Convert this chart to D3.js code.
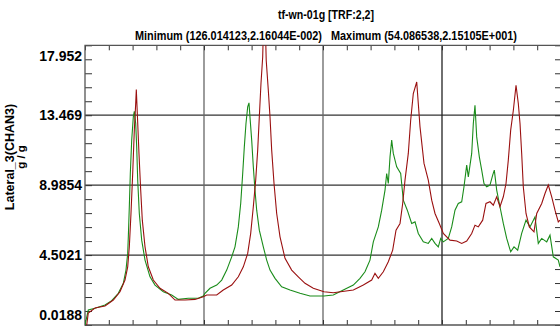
<!DOCTYPE html>
<html>
<head>
<meta charset="utf-8">
<script src="https://cdn.jsdelivr.net/npm/d3@7"></script>
<style>
    html, body { margin: 0; padding: 0; background: #fff; overflow: hidden; }
    svg text { font-family: "Liberation Sans Narrow", "Arial Narrow", "Liberation Sans", Arial, sans-serif; font-weight: bold; fill: #000; }
</style>
</head>
<body>
<svg id="chart" width="560" height="327"></svg>
<script>
// chart data (frequency in Hz, response in g/g)
const titleText = "tf-wn-01g [TRF:2,2]";
const minText = "Minimum (126.014123,2.16044E-002)";
const maxText = "Maximum (54.086538,2.15105E+001)";
const yTitle = "Lateral_3(CHAN3)";
const yUnit = "g / g";
const yTickValues = [0.0188, 4.5021, 8.9854, 13.469, 17.952];
const yTickLabels = ["0.0188", "4.5021", "8.9854", "13.469", "17.952"];
const xMajorTicks = [0, 25, 50, 75, 100];

const redSeries = [
    [0.36, 0.02], [0.69, 0.79], [2.10, 1.11], [4.20, 1.24], [5.95, 1.62], [7.35, 2.15], [8.40, 2.90],
    [8.97, 3.75], [9.31, 5.03], [9.66, 7.17], [10.02, 9.73], [10.36, 12.51], [10.65, 14.22], [10.78, 15.11],
    [10.99, 13.58], [11.34, 11.02], [11.70, 8.67], [12.04, 6.74], [12.61, 5.03], [13.30, 3.75], [14.35, 2.90],
    [15.76, 2.37], [17.50, 2.05], [18.91, 1.62], [21.01, 1.62], [23.11, 1.66], [24.85, 1.83],
    [25.57, 1.94], [27.67, 1.94], [29.05, 2.26], [30.82, 2.58], [32.21, 3.11], [33.26, 3.75], [34.18, 4.61],
    [34.81, 5.89], [35.36, 7.60], [35.86, 9.31], [36.28, 11.23], [36.62, 13.36], [36.97, 15.50], [37.33, 17.20],
    [37.69, 21.51], [38.07, 16.99], [38.51, 15.07], [38.87, 13.36], [39.22, 11.23], [39.71, 9.09], [40.27, 7.17],
    [40.97, 5.67], [42.02, 4.29], [43.42, 3.54], [44.81, 3.11], [46.22, 2.69], [47.96, 2.37], [50.21, 2.15],
    [52.16, 2.09], [56.37, 2.26], [58.47, 2.58], [60.23, 2.90], [60.92, 3.33], [61.62, 3.01], [62.67, 3.43],
    [63.72, 4.07], [64.64, 4.82], [65.34, 6.10], [66.18, 6.53], [66.74, 7.81], [67.23, 9.31], [67.92, 11.02],
    [68.42, 13.15], [68.97, 14.86], [69.69, 15.60], [70.02, 14.22], [70.38, 12.72], [71.22, 10.38], [72.12, 9.31],
    [72.84, 8.02], [73.53, 7.17], [74.43, 6.53], [75.15, 5.99],
    [75.27, 5.89], [76.68, 5.46], [78.09, 5.40], [79.14, 5.25], [80.19, 5.40], [81.24, 5.89], [81.93, 6.42],
    [82.63, 6.31], [83.55, 6.74], [84.24, 7.81], [85.08, 7.92], [85.78, 7.70], [86.49, 8.24], [87.18, 7.60],
    [87.88, 8.24], [88.45, 9.09], [88.93, 10.59], [89.43, 12.51], [89.99, 13.79], [90.55, 15.39], [91.03, 14.22],
    [91.39, 12.94], [91.74, 11.02], [92.08, 8.88], [92.65, 7.17], [93.34, 6.31], [94.33, 5.99], [94.90, 7.17],
    [95.95, 7.81], [96.64, 8.45], [97.33, 8.99], [98.05, 8.24], [98.74, 7.38], [99.43, 6.63], [99.79, 6.74]
];

const greenSeries = [
    [0.00, 0.02], [0.69, 0.98], [2.10, 1.09], [4.20, 1.30], [5.61, 1.58], [7.00, 2.05], [8.05, 2.69],
    [8.61, 3.54], [8.97, 4.61], [9.10, 5.67], [9.31, 7.60], [9.52, 9.73], [9.81, 11.87], [10.15, 13.36],
    [10.36, 13.72], [10.65, 12.94], [10.86, 11.44], [11.07, 9.31], [11.41, 7.17], [11.91, 5.46], [12.61, 4.18],
    [13.66, 3.11], [14.71, 2.58], [16.45, 2.15], [18.21, 1.94], [19.60, 1.66], [21.70, 1.73], [23.80, 1.73],
    [24.85, 1.88],
    [25.21, 2.05], [26.26, 2.37], [27.67, 2.58], [28.72, 2.90], [29.77, 3.54], [30.82, 4.39], [31.51, 5.03],
    [32.21, 6.31], [32.71, 7.81], [33.13, 9.73], [33.47, 11.44], [33.82, 12.94], [34.18, 14.00], [34.45, 14.26],
    [34.66, 13.36], [35.02, 11.87], [35.36, 10.16], [35.71, 8.67], [36.07, 7.38], [36.62, 6.10], [37.46, 5.03],
    [38.17, 4.18], [38.87, 3.54], [39.92, 3.01], [41.32, 2.47], [43.07, 2.26], [45.17, 2.05], [47.27, 1.88],
    [50.21, 1.88],
    [52.16, 1.94], [54.26, 2.26], [56.37, 2.58], [57.77, 3.01], [58.82, 3.43], [59.87, 4.18], [60.57, 5.35],
    [61.62, 6.31], [62.33, 7.38], [63.03, 8.67], [63.38, 9.73], [63.72, 9.09], [64.08, 10.80], [64.43, 11.87],
    [64.77, 11.02], [65.48, 10.16], [66.32, 9.73], [66.87, 8.02], [67.71, 7.38], [68.63, 6.53], [69.33, 6.63],
    [70.02, 5.89], [71.07, 5.35], [72.12, 5.25], [72.84, 5.57], [73.53, 5.25], [74.22, 5.03], [74.73, 5.57],
    [75.27, 5.35], [76.32, 5.57], [77.04, 6.31], [77.73, 7.38], [78.42, 7.81], [79.14, 7.92], [79.62, 8.88],
    [80.19, 10.27], [80.53, 9.52], [81.24, 11.02], [81.58, 12.94], [81.93, 14.11], [82.29, 12.08], [82.84, 10.80],
    [83.34, 9.95], [83.82, 9.09], [84.39, 8.88], [85.08, 8.99], [85.65, 9.63], [85.99, 9.95], [86.49, 8.67],
    [87.18, 7.60], [87.88, 6.53], [88.59, 5.57], [89.43, 4.71], [90.13, 5.03], [90.90, 4.82], [91.74, 5.89],
    [92.65, 6.74], [93.49, 6.31], [94.54, 6.95], [95.23, 5.25], [95.95, 5.57], [97.00, 5.35], [97.69, 5.78],
    [98.38, 4.39], [99.43, 4.18], [99.79, 3.75]
];

const svg = d3.select("#chart");
const plotLeft = 85, plotRight = 561, plotTop = 45.3, plotBottom = 325;

const x = d3.scaleLinear().domain([0, 100]).range([plotLeft, plotRight]);
const y = d3.scaleLinear().domain([yTickValues[0], yTickValues[4]]).range([plotBottom, plotTop]);

// minor ticks: 5 per major division
const yStep = (yTickValues[4] - yTickValues[0]) / 20;
const yMinor = d3.range(21).map(i => yTickValues[0] + i * yStep);
const xMinor = d3.range(0, 101, 5);

svg.append("clipPath").attr("id", "plot-clip")
    .append("rect").attr("x", plotLeft).attr("y", plotTop)
    .attr("width", plotRight - plotLeft).attr("height", plotBottom - plotTop);

// grid lines
svg.append("g").selectAll("line")
    .data(yTickValues.slice(1, 4))
    .enter().append("line")
    .attr("x1", plotLeft).attr("x2", plotRight)
    .attr("y1", d => y(d)).attr("y2", d => y(d))
    .attr("stroke", "#333").attr("stroke-width", 1.3);

svg.append("g").selectAll("line")
    .data(xMajorTicks.slice(1, 4))
    .enter().append("line")
    .attr("x1", d => x(d)).attr("x2", d => x(d))
    .attr("y1", plotTop).attr("y2", plotBottom)
    .attr("stroke", (d, i) => i === 2 ? "#222" : "#666").attr("stroke-width", 1.3);

// inward tick marks on all four sides
const tickStyle = g => {
    g.select(".domain").remove();
    g.selectAll(".tick text").remove();
    g.selectAll(".tick line").attr("stroke", "#333");
};
svg.append("g").attr("transform", `translate(${plotLeft},0)`)
    .call(d3.axisLeft(y).tickValues(yMinor).tickSize(-7)).call(tickStyle);
svg.append("g").attr("transform", `translate(${plotRight},0)`)
    .call(d3.axisRight(y).tickValues(yMinor).tickSize(-6)).call(tickStyle);
svg.append("g").attr("transform", `translate(0,${plotTop})`)
    .call(d3.axisTop(x).tickValues(xMinor).tickSize(-5)).call(tickStyle);
svg.append("g").attr("transform", `translate(0,${plotBottom})`)
    .call(d3.axisBottom(x).tickValues(xMinor).tickSize(-5)).call(tickStyle);

// frame
svg.append("path")
    .attr("d", `M${plotRight},${plotTop}H${plotLeft}V${plotBottom}H${plotRight}`)
    .attr("fill", "none").attr("stroke", "#555").attr("stroke-width", 1.3);

// curves
const line = d3.line().x(d => x(d[0])).y(d => y(d[1]));
const curves = svg.append("g").attr("clip-path", "url(#plot-clip)");
curves.append("path").datum(greenSeries)
    .attr("d", line).attr("fill", "none").attr("stroke", "#1a8c1a").attr("stroke-width", 1.1);
curves.append("path").datum(redSeries)
    .attr("d", line).attr("fill", "none").attr("stroke", "#9a1010").attr("stroke-width", 1.1);

// y tick labels (end labels pulled inside the frame)
svg.append("g").selectAll("text")
    .data(yTickValues)
    .enter().append("text")
    .attr("x", 82)
    .attr("y", (d, i) => y(d) + (i === 0 ? -10 : i === 4 ? 11 : 0))
    .attr("dy", "0.36em")
    .attr("text-anchor", "end")
    .style("font-size", "14px")
    .text((d, i) => yTickLabels[i]);

// titles
svg.append("text").attr("x", 278).attr("y", 18.5)
    .attr("textLength", 96).attr("lengthAdjust", "spacingAndGlyphs")
    .style("font-size", "12px").text(titleText);
svg.append("text").attr("x", 135).attr("y", 39.5)
    .attr("textLength", 187).attr("lengthAdjust", "spacingAndGlyphs")
    .style("font-size", "12px").text(minText);
svg.append("text").attr("x", 331).attr("y", 39.5)
    .attr("textLength", 186).attr("lengthAdjust", "spacingAndGlyphs")
    .style("font-size", "12px").text(maxText);

// y axis title
svg.append("text")
    .attr("transform", "translate(14,157) rotate(-90)")
    .attr("text-anchor", "middle")
    .style("font-size", "12.5px")
    .text(yTitle);
svg.append("text")
    .attr("transform", "translate(24.5,157) rotate(-90)")
    .attr("text-anchor", "middle")
    .style("font-size", "11.5px")
    .text(yUnit);
</script>
</body>
</html>
